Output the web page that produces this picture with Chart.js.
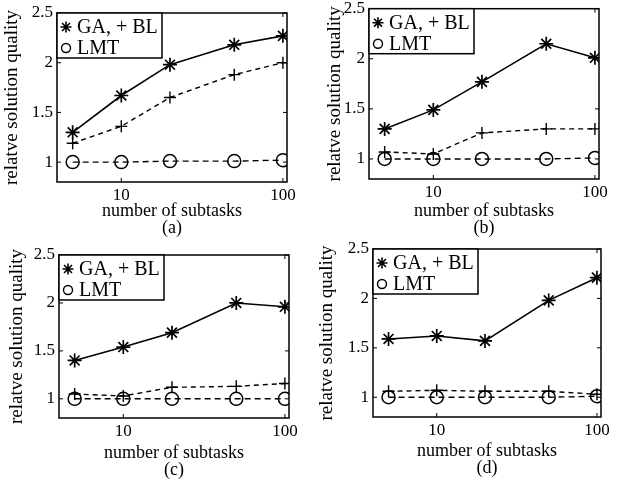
<!DOCTYPE html>
<html>
<head>
<meta charset="utf-8">
<script src="https://cdn.jsdelivr.net/npm/chart.js@4.4.1/dist/chart.umd.min.js"></script>
<style>
  body { margin: 0; background: #fff; }
  #wrap { position: relative; width: 621px; height: 483px; }
  canvas { position: absolute; }
</style>
</head>
<body>
<div id="wrap">
  <canvas id="pa" width="310" height="240" style="left:0;top:0"></canvas>
  <canvas id="pb" width="311" height="240" style="left:310px;top:0"></canvas>
  <canvas id="pc" width="310" height="243" style="left:0;top:240px"></canvas>
  <canvas id="pd" width="311" height="243" style="left:310px;top:240px"></canvas>
</div>
<script>
// ── Data ─────────────────────────────────────────────────

const subtasks = [5, 10, 20, 50, 100];
const xTickValues = [10, 100];
const yTickValues = [1, 1.5, 2, 2.5];

const gaA  = [1.30, 1.67, 1.98, 2.18, 2.27];
const blA  = [1.19, 1.36, 1.65, 1.88, 2.00];
const lmtA = [1.00, 1.00, 1.01, 1.01, 1.02];

const gaB  = [1.30, 1.49, 1.77, 2.15, 2.01];
const blB  = [1.07, 1.05, 1.26, 1.30, 1.30];
const lmtB = [1.00, 1.00, 1.00, 1.00, 1.01];

const gaC  = [1.40, 1.54, 1.69, 2.00, 1.96];
const blC  = [1.05, 1.03, 1.12, 1.13, 1.16];
const lmtC = [1.00, 1.00, 1.00, 1.00, 1.00];

const gaD  = [1.59, 1.62, 1.57, 1.98, 2.21];
const blD  = [1.06, 1.07, 1.06, 1.06, 1.03];
const lmtD = [1.00, 1.00, 1.00, 1.00, 1.01];

const legendLabels = ["GA, + BL", "LMT"];
const yTitle = "relatve solution quality";
const xTitle = "number of subtasks";

// ── Chart setup ──────────────────────────────────────────

Chart.defaults.font.family = "'Liberation Serif', 'DejaVu Serif', serif";
Chart.defaults.color = "#000";

const pts = (ys) => subtasks.map((x, i) => ({ x: x, y: ys[i] }));

// frame, inward ticks and the boxed legend, MATLAB style
const framePlugin = {
  id: "frame",
  afterDatasetsDraw(chart) {
    const { ctx, chartArea: a, scales } = chart;
    ctx.save();
    ctx.strokeStyle = "#000";
    ctx.lineWidth = 1.5;
    ctx.strokeRect(a.left, a.top, a.right - a.left, a.bottom - a.top);
    ctx.lineWidth = 1;
    ctx.beginPath();
    for (const v of yTickValues) {
      const y = scales.y.getPixelForValue(v);
      ctx.moveTo(a.left, y);  ctx.lineTo(a.left + 4, y);
      ctx.moveTo(a.right, y); ctx.lineTo(a.right - 4, y);
    }
    for (const v of xTickValues) {
      const x = scales.x.getPixelForValue(v);
      ctx.moveTo(x, a.bottom); ctx.lineTo(x, a.bottom - 4);
      ctx.moveTo(x, a.top);    ctx.lineTo(x, a.top + 4);
    }
    ctx.stroke();

    // legend box
    const lx = a.left, ly = a.top, lw = 105, lh = 45;
    ctx.fillStyle = "#fff";
    ctx.fillRect(lx, ly, lw, lh);
    ctx.lineWidth = 1.5;
    ctx.strokeRect(lx, ly, lw, lh);

    // star marker
    const sx = lx + 9, sy = ly + 14, r = 5.5;
    ctx.lineWidth = 1.6;
    ctx.beginPath();
    ctx.moveTo(sx - r, sy); ctx.lineTo(sx + r, sy);
    ctx.moveTo(sx, sy - r); ctx.lineTo(sx, sy + r);
    const d = r * 0.72;
    ctx.moveTo(sx - d, sy - d); ctx.lineTo(sx + d, sy + d);
    ctx.moveTo(sx - d, sy + d); ctx.lineTo(sx + d, sy - d);
    ctx.stroke();
    // circle marker
    ctx.lineWidth = 1.4;
    ctx.beginPath();
    ctx.arc(lx + 9, ly + 35, 4.5, 0, Math.PI * 2);
    ctx.stroke();

    ctx.fillStyle = "#000";
    ctx.font = "20px 'Liberation Serif'";
    ctx.textBaseline = "middle";
    ctx.fillText(legendLabels[0], lx + 20, ly + 15);
    ctx.fillText(legendLabels[1], lx + 20, ly + 36);
    ctx.restore();
  }
};

function makePanel(id, ga, bl, lmt, tag, box) {
  const canvas = document.getElementById(id);
  const cw = canvas.width, ch = canvas.height;
  return new Chart(canvas, {
    type: "line",
    data: {
      datasets: [
        {
          data: pts(ga),
          borderColor: "#000",
          borderWidth: 1.6,
          pointStyle: "star",
          pointRadius: 7,
          pointBorderWidth: 1.7,
          pointBorderColor: "#000",
          fill: false
        },
        {
          data: pts(bl),
          borderColor: "#000",
          borderWidth: 1.4,
          borderDash: [5, 4],
          pointStyle: "cross",
          pointRadius: 6,
          pointBorderWidth: 1.4,
          pointBorderColor: "#000",
          fill: false
        },
        {
          data: pts(lmt),
          borderColor: "#000",
          borderWidth: 1.4,
          borderDash: [6, 4],
          pointStyle: "circle",
          pointRadius: 6.5,
          pointBorderWidth: 1.5,
          pointBorderColor: "#000",
          pointBackgroundColor: "rgba(0,0,0,0)",
          fill: false
        }
      ]
    },
    options: {
      responsive: false,
      animation: false,
      devicePixelRatio: 1,
      layout: {
        padding: { left: 0, top: box.T, right: cw - box.L - box.W, bottom: 0 }
      },
      plugins: {
        legend: { display: false },
        tooltip: { enabled: false }
      },
      scales: {
        x: {
          type: "logarithmic",
          min: 4,
          max: 106,
          grid: { display: false, drawTicks: false },
          border: { display: false },
          ticks: {
            padding: 3,
            font: { size: 17 },
            color: "#000",
            callback: (v) => String(v)
          },
          afterBuildTicks: (s) => { s.ticks = xTickValues.map(v => ({ value: v })); },
          afterFit: (s) => {
            s.height = ch - box.T - box.H;
            s.paddingLeft = 0; s.paddingRight = 0;
          },
          title: {
            display: true,
            text: [xTitle, tag],
            font: { size: 18, lineHeight: 0.9 },
            color: "#000",
            padding: { top: 0, bottom: box.xPad }
          }
        },
        y: {
          min: 0.8,
          max: 2.5,
          grid: { display: false, drawTicks: false },
          border: { display: false },
          ticks: {
            padding: 4,
            font: { size: 17 },
            color: "#000",
            callback: (v) => String(v)
          },
          afterBuildTicks: (s) => { s.ticks = yTickValues.map(v => ({ value: v })); },
          afterFit: (s) => {
            s.width = box.L;
            s.paddingTop = 0; s.paddingBottom = 0;
          },
          title: {
            display: true,
            text: yTitle,
            font: { size: 19 },
            color: "#000",
            padding: { top: box.yPad, bottom: 0 }
          }
        }
      }
    },
    plugins: [framePlugin]
  });
}

makePanel("pa", gaA, blA, lmtA, "(a)", { L: 57, T: 13, W: 230, H: 169, xPad: 4, yPad: 1 });
makePanel("pb", gaB, blB, lmtB, "(b)", { L: 59, T: 8,  W: 230, H: 171, xPad: 4, yPad: 14 });
makePanel("pc", gaC, blC, lmtC, "(c)", { L: 59, T: 15, W: 230, H: 163, xPad: 5, yPad: 6 });
makePanel("pd", gaD, blD, lmtD, "(d)", { L: 63, T: 9,  W: 228, H: 168, xPad: 7, yPad: 6 });
</script>
</body>
</html>
